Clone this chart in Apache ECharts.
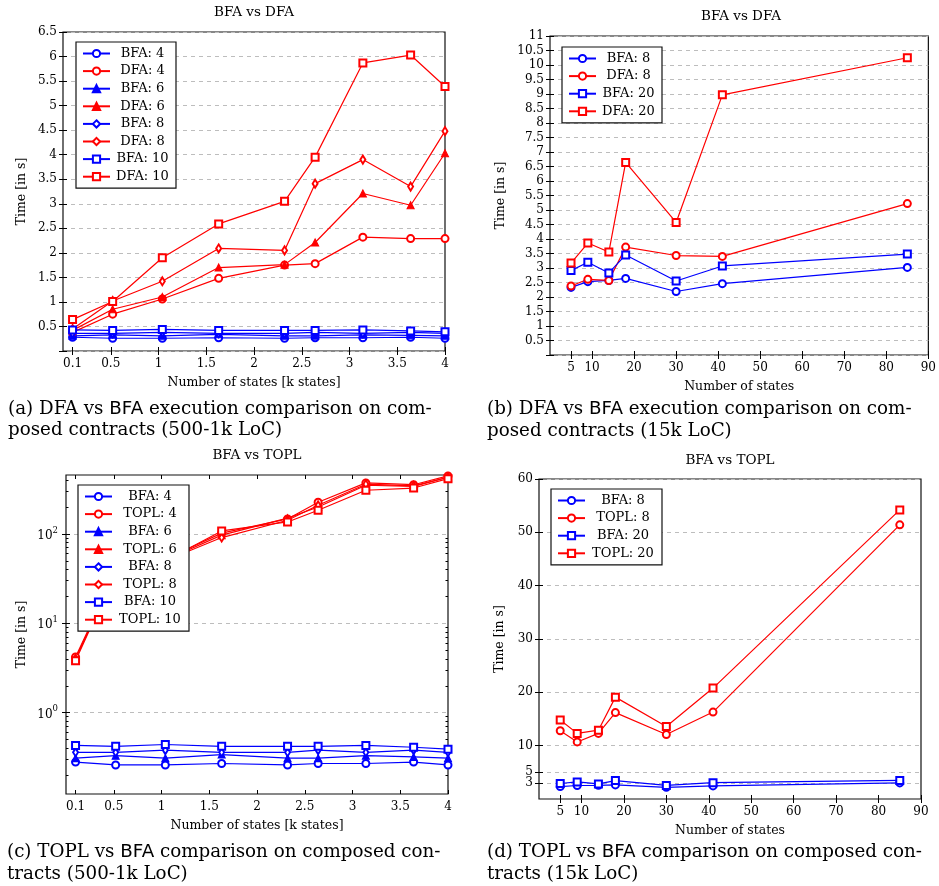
<!DOCTYPE html>
<html><head><meta charset="utf-8">
<script src="https://cdn.jsdelivr.net/npm/echarts@6/dist/echarts.min.js"></script>
<style>html,body{margin:0;padding:0;background:#fff}#c{width:939px;height:886px}</style>
</head><body><div id="c"></div>
<script>
// ---------- data ----------
const statesK = [0.1, 0.52, 1.04, 1.63, 2.32, 2.64, 3.14, 3.64, 4.0];
const bfa4 = [0.28, 0.26, 0.26, 0.27, 0.26, 0.27, 0.27, 0.28, 0.26];
const bfa6 = [0.31, 0.33, 0.31, 0.34, 0.31, 0.31, 0.33, 0.32, 0.31];
const bfa8 = [0.36, 0.36, 0.38, 0.36, 0.36, 0.38, 0.36, 0.38, 0.36];
const bfa10 = [0.43, 0.42, 0.44, 0.42, 0.42, 0.42, 0.43, 0.41, 0.39];
const dfa4 = [0.38, 0.75, 1.06, 1.48, 1.75, 1.78, 2.32, 2.29, 2.29];
const dfa6 = [0.42, 0.85, 1.10, 1.70, 1.76, 2.21, 3.21, 2.97, 4.03];
const dfa8 = [0.45, 1.02, 1.42, 2.09, 2.05, 3.41, 3.90, 3.35, 4.48];
const dfa10 = [0.64, 1.01, 1.90, 2.59, 3.05, 3.95, 5.87, 6.03, 5.39];
const topl4 = [4.2, 38, 52, 102, 147, 226, 372, 355, 445];
const topl6 = [4.0, 38, 51, 97, 150, 200, 350, 340, 430];
const topl8 = [4.0, 37, 50, 91, 142, 209, 360, 345, 430];
const topl10 = [3.8, 37, 50, 108, 136, 184, 308, 326, 415];

const states = [5, 9, 14, 18, 30, 41, 85];
const bfa8L = [2.33, 2.53, 2.57, 2.64, 2.19, 2.46, 3.02];
const dfa8L = [2.38, 2.61, 2.57, 3.72, 3.43, 3.40, 5.22];
const bfa20L = [2.91, 3.20, 2.83, 3.45, 2.55, 3.07, 3.48];
const dfa20L = [3.17, 3.86, 3.55, 6.64, 4.57, 8.97, 10.25];
const topl8L = [12.8, 10.7, 12.3, 16.2, 12.1, 16.3, 51.4];
const topl20L = [14.8, 12.3, 12.9, 19.1, 13.6, 20.8, 54.2];

const xTicksK = [0.1, 0.5, 1, 1.5, 2, 2.5, 3, 3.5, 4];
const xTicksN = [5, 10, 20, 30, 40, 50, 60, 70, 80, 90];
const yTicksD = [3, 5, 10, 20, 30, 40, 50, 60];
const yLabelsD = [3, 10, 20, 30, 40, 50, 60];
const yLabelsD2 = [5];
const yTicksC = [1, 10, 100];
const yMinorC = [0.2, 0.3, 0.4, 0.5, 0.6, 0.7, 0.8, 0.9, 2, 3, 4, 5, 6, 7, 8, 9, 20, 30, 40, 50, 60, 70, 80, 90, 200, 300, 400];

const titles = ['BFA vs DFA', 'BFA vs DFA', 'BFA vs TOPL', 'BFA vs TOPL'];
const xNameK = 'Number of states [k states]';
const xNameN = 'Number of states';
const yName = 'Time [in s]';

// ---------- styling helpers ----------
const FONT = 'DejaVu Serif';
const BLUE = '#0000ff', RED = '#ff0000';
const tickStyle = {color: '#000', width: 1};
const gridLine = {show: true, lineStyle: {color: '#bdbdbd', type: [4, 4], width: 1}};
const nameStyle = {color: '#000', fontFamily: FONT, fontSize: 12.5};
const labelBase = {color: '#000', fontFamily: FONT, fontSize: 12, lineHeight: 9, hideOverlap: false, showMinLabel: true, showMaxLabel: true};

function xAx(grid, pos, min, max, ticks, name, gap) {
  return {
    type: 'value', gridIndex: grid, position: pos, min: min, max: max,
    axisLine: {show: false}, splitLine: {show: false},
    axisTick: {show: true, inside: true, length: 4, customValues: ticks, lineStyle: tickStyle},
    axisLabel: Object.assign({show: pos === 'bottom', customValues: ticks, margin: 8,
      formatter: v => String(+(+v).toFixed(2))}, labelBase),
    name: pos === 'bottom' ? name : '', nameLocation: 'middle', nameGap: gap, nameTextStyle: nameStyle
  };
}
function yLin(grid, pos, min, max, interval, ticks, labels, name, gap) {
  const a = {
    type: 'value', gridIndex: grid, position: pos, min: min, max: max,
    axisLine: {show: false},
    splitLine: pos === 'left' && ticks !== 'none' ? gridLine : {show: false},
    axisTick: {show: ticks !== 'none', inside: true, length: 4, lineStyle: tickStyle},
    axisLabel: Object.assign({show: pos === 'left', margin: 6,
      formatter: v => (+v === 0 ? '' : String(+(+v).toFixed(2)))}, labelBase),
    name: name, nameLocation: 'middle', nameGap: gap, nameTextStyle: nameStyle
  };
  if (interval) a.interval = interval;
  if (ticks && ticks !== 'none') a.axisTick.customValues = ticks;
  if (labels) a.axisLabel.customValues = labels;
  return a;
}
function yLog(grid, pos, ticks, len, withLabel, name, gap) {
  return {
    type: 'log', logBase: 10, gridIndex: grid, position: pos, min: 0.123, max: 456,
    axisLine: {show: false},
    splitLine: withLabel ? gridLine : {show: false},
    axisTick: {show: true, inside: true, length: len, customValues: ticks, lineStyle: tickStyle},
    axisLabel: {show: withLabel, customValues: yTicksC, margin: 8, hideOverlap: false,
      showMinLabel: true, showMaxLabel: true,
      formatter: v => '{b|10}{s|' + Math.round(Math.log10(v)) + '}',
      rich: {b: {fontFamily: FONT, fontSize: 12, color: '#000', verticalAlign: 'bottom', lineHeight: 16},
             s: {fontFamily: FONT, fontSize: 8.5, color: '#000', verticalAlign: 'top', lineHeight: 16}}},
    name: withLabel ? name : '', nameLocation: 'middle', nameGap: gap, nameTextStyle: nameStyle
  };
}

function ser(panel, name, xs, ys, color, symbol, size, xi, yi) {
  return {
    type: 'line', name: panel + '|' + name, xAxisIndex: xi, yAxisIndex: yi,
    data: xs.map((x, i) => [x, ys[i]]),
    symbol: symbol, symbolSize: size, showSymbol: true, clip: false,
    lineStyle: {color: color, width: 1.2},
    itemStyle: {color: color, borderColor: color, borderWidth: 1.1},
    emphasis: {disabled: true}
  };
}

const C = 'emptyCircle', T = 'triangle', D = 'emptyDiamond', S = 'emptyRect';
const series = [
  ser('a', 'BFA: 4', statesK, bfa4, BLUE, C, 7, 0, 0),
  ser('a', 'DFA: 4', statesK, dfa4, RED, C, 7, 0, 0),
  ser('a', 'BFA: 6', statesK, bfa6, BLUE, T, 7, 0, 0),
  ser('a', 'DFA: 6', statesK, dfa6, RED, T, 7, 0, 0),
  ser('a', 'BFA: 8', statesK, bfa8, BLUE, D, [5, 8], 0, 0),
  ser('a', 'DFA: 8', statesK, dfa8, RED, D, [5, 8], 0, 0),
  ser('a', 'BFA: 10', statesK, bfa10, BLUE, S, 7, 0, 0),
  ser('a', 'DFA: 10', statesK, dfa10, RED, S, 7, 0, 0),

  ser('b', 'BFA: 8', states, bfa8L, BLUE, C, 7, 2, 2),
  ser('b', 'DFA: 8', states, dfa8L, RED, C, 7, 2, 2),
  ser('b', 'BFA: 20', states, bfa20L, BLUE, S, 7, 2, 2),
  ser('b', 'DFA: 20', states, dfa20L, RED, S, 7, 2, 2),

  ser('c', 'BFA: 4', statesK, bfa4, BLUE, C, 7, 4, 4),
  ser('c', 'TOPL: 4', statesK, topl4, RED, C, 7, 4, 4),
  ser('c', 'BFA: 6', statesK, bfa6, BLUE, T, 7, 4, 4),
  ser('c', 'TOPL: 6', statesK, topl6, RED, T, 7, 4, 4),
  ser('c', 'BFA: 8', statesK, bfa8, BLUE, D, [5, 8], 4, 4),
  ser('c', 'TOPL: 8', statesK, topl8, RED, D, [5, 8], 4, 4),
  ser('c', 'BFA: 10', statesK, bfa10, BLUE, S, 7, 4, 4),
  ser('c', 'TOPL: 10', statesK, topl10, RED, S, 7, 4, 4),

  ser('d', 'BFA: 8', states, bfa8L, BLUE, C, 7, 6, 8),
  ser('d', 'TOPL: 8', states, topl8L, RED, C, 7, 6, 8),
  ser('d', 'BFA: 20', states, bfa20L, BLUE, S, 7, 6, 8),
  ser('d', 'TOPL: 20', states, topl20L, RED, S, 7, 6, 8)
];

function legend(panel, left, top, tw) {
  return {
    data: series.filter(s => s.name.startsWith(panel + '|')).map(s => s.name),
    orient: 'vertical', left: left, top: top, padding: [5, 6],
    itemWidth: 27, itemHeight: 9, itemGap: 4.6, selectedMode: false,
    backgroundColor: '#fff', borderColor: '#111', borderWidth: 1.2,
    formatter: n => '{t|' + n.split('|')[1] + '}',
    textStyle: {color: '#000', fontFamily: FONT, fontSize: 13,
      rich: {t: {width: tw, align: 'center', fontFamily: FONT, fontSize: 13, lineHeight: 14, color: '#000'}}}
  };
}

function txt(x, y, t, size, align) {
  return {type: 'text', x: x, y: y, silent: true,
    style: {text: t, fill: '#000', font: size + 'px "' + FONT + '"', align: align || 'center', verticalAlign: 'middle'}};
}
function caption(x, y, pre, post, line2) {
  return {type: 'text', x: x, y: y, silent: true,
    style: {text: '{s|' + pre + '}{f|BFA}{s|' + post + '}\n{s|' + line2 + '}',
      fill: '#000', align: 'left', verticalAlign: 'top',
      rich: {s: {fontFamily: FONT, fontSize: 18.3, lineHeight: 21.4, fill: '#000'},
             f: {fontFamily: 'DejaVu Sans', fontSize: 18.3, lineHeight: 21.4, fill: '#000'}}}};
}

const option = {
  animation: false,
  backgroundColor: '#fff',
  grid: [
    {left: 63, top: 32, width: 382, height: 319, show: true, borderColor: '#111', borderWidth: 1.2, backgroundColor: 'transparent'},
    {left: 550, top: 36, width: 382, height: 319, show: true, borderColor: '#111', borderWidth: 1.2, backgroundColor: 'transparent'},
    {left: 66, top: 475, width: 382, height: 319, show: true, borderColor: '#111', borderWidth: 1.2, backgroundColor: 'transparent'},
    {left: 539, top: 479, width: 382, height: 320, show: true, borderColor: '#111', borderWidth: 1.2, backgroundColor: 'transparent'}
  ],
  xAxis: [
    xAx(0, 'bottom', 0, 4, xTicksK, xNameK, 25),
    xAx(0, 'top', 0, 4, xTicksK, '', 0),
    xAx(1, 'bottom', 0, 90, xTicksN, xNameN, 25),
    xAx(1, 'top', 0, 90, xTicksN, '', 0),
    xAx(2, 'bottom', 0, 4, xTicksK, xNameK, 25),
    xAx(2, 'top', 0, 4, xTicksK, '', 0),
    xAx(3, 'bottom', 0, 90, xTicksN, xNameN, 25),
    xAx(3, 'top', 0, 90, xTicksN, '', 0)
  ],
  yAxis: [
    yLin(0, 'left', 0, 6.5, 0.5, null, null, yName, 35),
    yLin(0, 'right', 0, 6.5, 0.5, null, null, '', 0),
    yLin(1, 'left', 0, 11, 0.5, null, null, yName, 43),
    yLin(1, 'right', 0, 11, 0.5, null, null, '', 0),
    yLog(2, 'left', yTicksC, 4, true, yName, 38),
    yLog(2, 'right', yTicksC, 4, false, '', 0),
    yLog(2, 'left', yMinorC, 2.5, false, '', 0),
    yLog(2, 'right', yMinorC, 2.5, false, '', 0),
    yLin(3, 'left', 0, 60, null, yTicksD, yLabelsD, yName, 33),
    yLin(3, 'right', 0, 60, null, yTicksD, yTicksD, '', 0),
    yLin(3, 'left', 0, 60, null, 'none', yLabelsD2, '', 0)
  ],
  legend: [
    legend('a', 76, 42, 55),
    legend('b', 562, 47, 55),
    legend('c', 78, 485, 66),
    legend('d', 551, 489, 66)
  ],
  graphic: [
    txt(254, 12, titles[0], 13.5),
    txt(741, 16, titles[1], 13.5),
    txt(257, 455, titles[2], 13.5),
    txt(730, 460, titles[3], 13.5),
    caption(8, 398.5, '(a) DFA vs ', ' execution comparison on com-', 'posed contracts (500-1k LoC)'),
    caption(487, 399, '(b) DFA vs ', ' execution comparison on com-', 'posed contracts (15k LoC)'),
    caption(7, 842, '(c) TOPL vs ', ' comparison on composed con-', 'tracts (500-1k LoC)'),
    caption(487, 842, '(d) TOPL vs ', ' comparison on composed con-', 'tracts (15k LoC)')
  ],
  series: series
};

const chart = echarts.init(document.getElementById('c'), null, {renderer: 'canvas'});
chart.setOption(option);
</script>
</body></html>
